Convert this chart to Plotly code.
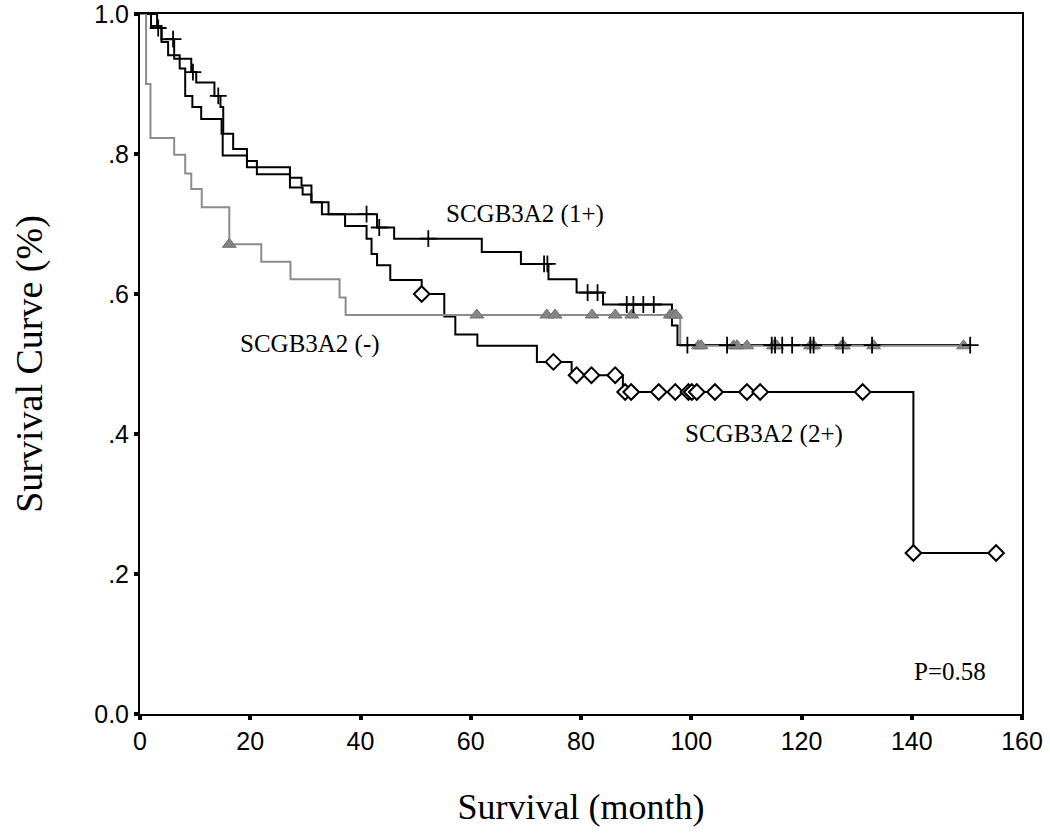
import numpy as np
import plotly.graph_objects as go

# ---------------- data ----------------
# SCGB3A2 (1+): event times (months) and survival after each event
g1_times = [0, 3.1, 3.9, 6.2, 9.3, 10.2, 13.5, 14.6, 15.1, 16.9, 19.4, 21.2, 27.2,
            29.3, 31.1, 34.2, 43.0, 46.1, 62.0, 69.1, 74.1, 79.2, 84.0, 96.5, 97.5]
g1_surv = [1.0, 0.980, 0.964, 0.936, 0.917, 0.902, 0.883, 0.867, 0.829, 0.807, 0.790,
           0.781, 0.766, 0.755, 0.731, 0.714, 0.695, 0.679, 0.660, 0.643, 0.621,
           0.602, 0.585, 0.555, 0.527]
g1_censor = [3.3, 6.0, 9.6, 14.2, 41.1, 43.4, 52.3, 73.3, 73.9, 81.2, 83.0, 88.3,
             89.5, 91.3, 93.2, 99.3, 106.5, 114.6, 115.2, 116.5, 118.3, 121.6,
             122.2, 127.5, 132.8, 150.6]

# SCGB3A2 (2+)
g2_times = [0, 2.0, 3.9, 5.1, 7.2, 8.2, 9.5, 11.1, 14.8, 15.0, 19.4, 21.2, 27.2,
            29.5, 31.1, 33.0, 37.2, 41.1, 42.0, 43.0, 45.4, 51.1, 55.2, 57.2, 61.2,
            72.0, 78.3, 87.6, 140.3]
g2_surv = [1.0, 0.983, 0.960, 0.941, 0.922, 0.883, 0.867, 0.850, 0.829, 0.798, 0.781,
           0.771, 0.752, 0.742, 0.731, 0.714, 0.697, 0.679, 0.657, 0.641, 0.620,
           0.600, 0.568, 0.542, 0.526, 0.503, 0.484, 0.460, 0.230]
g2_censor = [51.1, 75.0, 79.2, 81.9, 86.2, 88.0, 89.1, 94.1, 97.1, 99.5, 100.1,
             101.0, 104.3, 110.1, 112.5, 131.1, 140.3, 155.3]

# SCGB3A2 (-)
g0_times = [0, 1.1, 1.9, 6.2, 8.2, 9.3, 11.2, 16.2, 22.0, 27.3, 36.2, 37.3, 98.0]
g0_surv = [1.0, 0.900, 0.823, 0.799, 0.772, 0.750, 0.724, 0.671, 0.646, 0.621,
           0.595, 0.570, 0.526]
g0_censor = [16.2, 61.1, 73.8, 75.3, 82.0, 86.2, 89.2, 96.2, 96.7, 97.2, 101.3,
             101.8, 107.7, 108.3, 110.1, 114.9, 115.5, 121.6, 122.2, 127.3, 127.6,
             133.1, 149.4]

x_ticks = [0, 20, 40, 60, 80, 100, 120, 140, 160]
y_ticks = [0.0, 0.2, 0.4, 0.6, 0.8, 1.0]
y_ticklabels = ["0.0", ".2", ".4", ".6", ".8", "1.0"]

labels = {"g1": "SCGB3A2 (1+)", "g0": "SCGB3A2 (-)", "g2": "SCGB3A2 (2+)"}
p_text = "P=0.58"


def step_line(times, surv, censor):
    end = max(max(times), max(censor))
    return list(times) + [end], list(surv) + [surv[-1]]


def surv_at(times, surv, t):
    t_arr = np.asarray(times)
    s_arr = np.asarray(surv)
    idx = np.searchsorted(t_arr, np.asarray(t), side="right") - 1
    return s_arr[idx]


BLACK = "#000000"
GREY = "#8c8c8c"

fig = go.Figure()

for times, surv, cens, color, width in [
    (g2_times, g2_surv, g2_censor, BLACK, 2),
    (g1_times, g1_surv, g1_censor, BLACK, 2),
    (g0_times, g0_surv, g0_censor, GREY, 2),
]:
    lx, ly = step_line(times, surv, cens)
    fig.add_trace(go.Scatter(x=lx, y=ly, mode="lines", line_shape="hv",
                             line=dict(color=color, width=width),
                             showlegend=False, hoverinfo="skip", cliponaxis=False))

# censor markers
fig.add_trace(go.Scatter(x=g0_censor, y=surv_at(g0_times, g0_surv, g0_censor),
                         mode="markers",
                         marker=dict(symbol="triangle-up", size=12, color="#858585",
                                     line=dict(color="#707070", width=1)),
                         showlegend=False))
fig.add_trace(go.Scatter(x=g1_censor, y=surv_at(g1_times, g1_surv, g1_censor),
                         mode="markers",
                         marker=dict(symbol="cross-thin", size=12,
                                     line=dict(color=BLACK, width=1.8)),
                         showlegend=False))
fig.add_trace(go.Scatter(x=g2_censor, y=surv_at(g2_times, g2_surv, g2_censor),
                         mode="markers",
                         marker=dict(symbol="diamond", size=12, color="white",
                                     line=dict(color=BLACK, width=2)),
                         showlegend=False))

serif = "Liberation Serif, Times New Roman, serif"
sans = "Liberation Sans, Arial, sans-serif"

ann = [
    (69.8, 0.714, labels["g1"]),
    (30.8, 0.528, labels["g0"]),
    (113.2, 0.400, labels["g2"]),
    (147.0, 0.061, p_text),
]
for x, y, t in ann:
    fig.add_annotation(x=x, y=y, text=t, showarrow=False, xref="x", yref="y",
                       font=dict(family=serif, size=25, color="black"))

fig.update_layout(
    width=1050, height=834,
    margin=dict(l=140, r=28, t=14, b=120),
    paper_bgcolor="white", plot_bgcolor="white",
    xaxis=dict(range=[0, 160], tickvals=x_ticks, ticks="outside", ticklen=4,
               tickwidth=4, tickcolor="black", showline=True, linecolor="black",
               linewidth=2, mirror=True, showgrid=False, zeroline=False,
               automargin=False, ticklabeloverflow="allow",
               tickfont=dict(family=sans, size=25, color="black"),
               title=dict(text="Survival (month)", standoff=40,
                          font=dict(family=serif, size=36, color="black"))),
    yaxis=dict(range=[0, 1], tickvals=y_ticks, ticktext=y_ticklabels,
               ticks="outside", ticklen=4, tickwidth=4, tickcolor="black",
               showline=True, linecolor="black", linewidth=2, mirror=True,
               showgrid=False, zeroline=False,
               automargin=False, ticklabeloverflow="allow",
               tickfont=dict(family=sans, size=25, color="black"),
               title=dict(text="Survival Curve (%)", standoff=40,
                          font=dict(family=serif, size=38, color="black"))),
)

fig.write_html("out.html", config={"displayModeBar": False},
               post_script="document.body.style.margin='0';document.body.style.padding='0';")
